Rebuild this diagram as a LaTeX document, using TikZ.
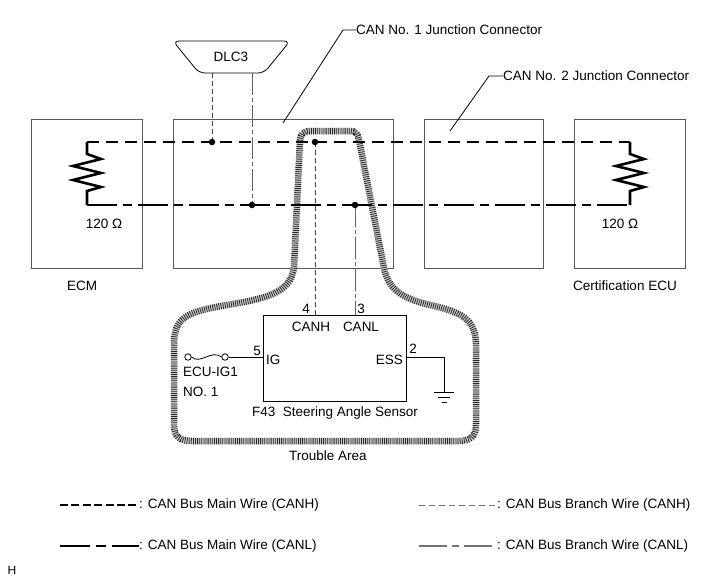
\documentclass[tikz,border=0pt]{standalone}
\usepackage{fontspec}
\setmainfont{Liberation Sans}
\begin{document}
\begin{tikzpicture}[x=1pt,y=-1pt,
  every node/.style={inner sep=0pt, font=\fontsize{13.5}{16}\selectfont},
  unitbox/.style={draw=black!65, line width=0.8pt},
  sensorbox/.style={draw=black, line width=0.8pt},
  thin wire/.style={draw=black, line width=0.8pt},
  mainH/.style={draw=black, line width=2.8pt, dash pattern=on 12pt off 7pt},
  mainL/.style={draw=black, line width=2.8pt, dash pattern=on 30pt off 6pt on 9pt off 6pt},
  legH/.style={draw=black, line width=2.8pt, dash pattern=on 8pt off 3.4pt},
  legL/.style={draw=black, line width=2.8pt, dash pattern=on 30pt off 6pt on 10pt off 6pt},
  branchH/.style={draw=black!75, line width=0.9pt, dash pattern=on 5pt off 3pt},
  branchL/.style={draw=black!60, line width=0.9pt, dash pattern=on 22pt off 3pt on 4pt off 3pt},
  legBH/.style={draw=black!55, line width=0.9pt, dash pattern=on 6pt off 4pt},
  legBL/.style={draw=black!55, line width=1.2pt, dash pattern=on 28pt off 5pt on 7pt off 5pt},
  resistor/.style={draw=black, line width=2.6pt, line join=miter},
  junction/.style={circle, fill=black, inner sep=0pt, minimum size=6.5pt},
  leader/.style={draw=black, line width=0.8pt},
  hatchbase/.style={line width=6.5pt, black!20},
  hatchlines/.style={line width=6.5pt, black!85, dash pattern=on 0.8pt off 1.3pt},
]
\useasboundingbox (0,0) rectangle (711,579);
\fill[white] (0,0) rectangle (711,579);

% ---------- boxes ----------
\draw[unitbox] (31,119) rectangle (142,268);
\draw[unitbox] (173,119) rectangle (393,268);
\draw[unitbox] (424,119) rectangle (543,268);
\draw[unitbox] (574,119) rectangle (685,268);
\node (ecm) at (82,286) {ECM};
\node (cert) at (625,286) {Certification ECU};
\node (rl) at (104,224) {120 Ω};
\node (rr) at (620,224) {120 Ω};

% ---------- DLC3 ----------
\draw[sensorbox, rounded corners=6pt] (231,41) -- (290,41) -- (264,73) -- (199,73) -- (173,41) -- cycle;
\node (dlc) at (231,57) {DLC3};
\coordinate (dlcH) at (212,73);
\coordinate (dlcL) at (252,73);

% ---------- leaders ----------
\node[anchor=west] (j1lab) at (356,30) {CAN No. 1 Junction Connector};
\node[anchor=west] (j2lab) at (503,76) {CAN No. 2 Junction Connector};
\coordinate (j1a) at (283,123);
\coordinate (j2a) at (450,131);
\draw[leader] (j1a) -- (343,30) -- (j1lab.west);
\draw[leader] (j2a) -- (489,76) -- (j2lab.west);

% ---------- trouble area ----------
\def\troublepath{(330,131) -- (350,131)
  .. controls (356,131) and (358,134) .. (359,140)
  -- (384,268)
  .. controls (388,288) and (400,298) .. (430,305)
  .. controls (460,312) and (476,318) .. (476,345)
  -- (476,425)
  .. controls (476,437) and (470,441) .. (458,441)
  -- (192,441)
  .. controls (180,441) and (174,437) .. (174,425)
  -- (174,345)
  .. controls (174,318) and (185,312) .. (227,305)
  .. controls (270,298) and (290,292) .. (294,268)
  -- (300,140)
  .. controls (301,134) and (303,131) .. (310,131)
  -- cycle}
\draw[hatchbase] \troublepath;
\draw[hatchlines] \troublepath;
\node (trouble) at (328,456) {Trouble Area};

% ---------- sensor ----------
\draw[sensorbox] (263,315) rectangle (406,401);
\coordinate (sH) at (315,315);
\coordinate (sL) at (355,315);
\coordinate (sIG) at (263,357);
\coordinate (sESS) at (406,357);
\node (p4) at (306,309) {4};
\node (p3) at (361,309) {3};
\node (canh) at (311,327) {CANH};
\node (canl) at (361,327) {CANL};
\node (p5) at (257,351) {5};
\node[anchor=west] (ig) at (266,360) {IG};
\node[anchor=east] (ess) at (403,360) {ESS};
\node (p2) at (413,349) {2};
\node (sensor) at (335,413) {F43\ \ Steering Angle Sensor};
\node[anchor=west] (fuse1) at (183,372) {ECU-IG1};
\node[anchor=west] (fuse2) at (183,392) {NO. 1};

% fuse
\node[circle, draw, line width=0.8pt, minimum size=6.5pt] (fa) at (188,357) {};
\node[circle, draw, line width=0.8pt, minimum size=6.5pt] (fb) at (225,357) {};
\draw[thin wire] (fa.east) .. controls (200,365) and (212,349) .. (fb.west);
\draw[thin wire] (fb.east) -- (sIG);

% ground
\coordinate (gnd) at (444,392);
\draw[thin wire] (sESS) -- (444,357) -- (gnd);
\draw[thin wire] (434,392) -- (454,392);
\draw[thin wire] (438,397) -- (450,397);
\draw[thin wire] (441.5,402) -- (446.5,402);

% ---------- branch wires ----------
\coordinate (nH1) at (212,142);
\coordinate (nL1) at (252,205);
\coordinate (nH2) at (315,142);
\coordinate (nL2) at (355,205);
\draw[branchH] (dlcH) -- (nH1);
\draw[branchL] (dlcL) -- (nL1);
\draw[branchH] (nH2) -- (sH);
\draw[branchL] (nL2) -- (sL);

% ---------- main wires ----------
\coordinate (lH) at (87,142);
\coordinate (lL) at (87,205);
\coordinate (rH) at (630,142);
\coordinate (rL) at (630,205);
\draw[mainH] (lH) -- (rH);
\draw[mainL] (lL) -- (rL);
\draw[resistor] (lH) -- ++(0,12) -- ++(14,5) -- ++(-28,7) -- ++(28,7) -- ++(-28,7) -- ++(28,7) -- ++(-14,4) -- (lL);
\draw[resistor] (rH) -- ++(0,12) -- ++(14,5) -- ++(-28,7) -- ++(28,7) -- ++(-28,7) -- ++(28,7) -- ++(-14,4) -- (rL);
\node[junction] at (nH1) {};
\node[junction] at (nL1) {};
\node[junction] at (nH2) {};
\node[junction] at (nL2) {};

% ---------- legend ----------
\node[anchor=west] (lg1) at (139,505) {: CAN Bus Main Wire (CANH)};
\node[anchor=west] (lg2) at (139,546) {: CAN Bus Main Wire (CANL)};
\node[anchor=west] (lg3) at (497,505) {: CAN Bus Branch Wire (CANH)};
\node[anchor=west] (lg4) at (497,546) {: CAN Bus Branch Wire (CANL)};
\coordinate (lg1s) at (60,505);
\coordinate (lg2s) at (60,546);
\coordinate (lg3s) at (419,505);
\coordinate (lg4s) at (419,546);
\draw[legH] (lg1s) -- (lg1.west);
\draw[legL] (lg2s) -- (lg2.west);
\draw[legBH] (lg3s) -- (lg3.west);
\draw[legBL] (lg4s) -- (lg4.west);
\node (hmark) at (12,570) {\fontsize{12}{14}\selectfont H};
\end{tikzpicture}
\end{document}
